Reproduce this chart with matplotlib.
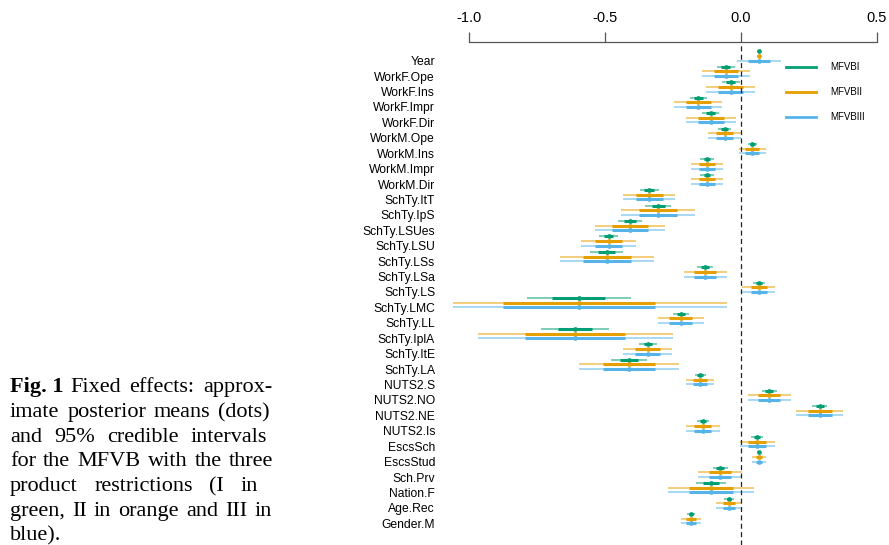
import matplotlib
matplotlib.use("Agg")
import matplotlib.pyplot as plt
from matplotlib.lines import Line2D

plt.rcParams["font.family"] = ["Liberation Sans", "DejaVu Sans"]

# fixed effects, top to bottom
terms = ["Year", "WorkF.Ope", "WorkF.Ins", "WorkF.Impr", "WorkF.Dir",
         "WorkM.Ope", "WorkM.Ins", "WorkM.Impr", "WorkM.Dir",
         "SchTy.ItT", "SchTy.IpS", "SchTy.LSUes", "SchTy.LSU", "SchTy.LSs",
         "SchTy.LSa", "SchTy.LS", "SchTy.LMC", "SchTy.LL", "SchTy.IplA",
         "SchTy.ItE", "SchTy.LA", "NUTS2.S", "NUTS2.NO", "NUTS2.NE",
         "NUTS2.Is", "EscsSch", "EscsStud", "Sch.Prv", "Nation.F",
         "Age.Rec", "Gender.M"]

# approximate posterior means (same for the three restrictions)
post_mean = [0.065, -0.056, -0.038, -0.157, -0.111,
             -0.060, 0.042, -0.125, -0.125,
             -0.337, -0.305, -0.407, -0.487, -0.494,
             -0.131, 0.066, -0.596, -0.222, -0.610,
             -0.342, -0.412, -0.150, 0.104, 0.290,
             -0.141, 0.060, 0.066, -0.077, -0.110,
             -0.044, -0.184]

# posterior standard deviations per restriction
sd_I = [0.003, 0.017, 0.017, 0.0155, 0.016,
        0.012, 0.009, 0.0125, 0.0125,
        0.018, 0.024, 0.0225, 0.018, 0.031,
        0.015, 0.011, 0.0975, 0.015, 0.064,
        0.016, 0.033, 0.010, 0.014, 0.014,
        0.0115, 0.011, 0.0045, 0.014, 0.028,
        0.009, 0.008]
sd_II = [0.003, 0.045, 0.046, 0.045, 0.047,
         0.031, 0.026, 0.030, 0.030,
         0.049, 0.070, 0.066, 0.051, 0.088,
         0.040, 0.031, 0.278, 0.043, 0.183,
         0.046, 0.094, 0.0265, 0.040, 0.044,
         0.032, 0.033, 0.0125, 0.041, 0.080,
         0.0235, 0.0195]
sd_III = [0.041, 0.045, 0.046, 0.045, 0.047,
          0.031, 0.026, 0.030, 0.030,
          0.049, 0.070, 0.066, 0.051, 0.088,
          0.040, 0.031, 0.278, 0.043, 0.183,
          0.046, 0.094, 0.0265, 0.040, 0.044,
          0.032, 0.033, 0.0125, 0.041, 0.080,
          0.0235, 0.0195]

methods = ["MFVBI", "MFVBII", "MFVBIII"]
colors = ["#009E73", "#E69F00", "#56B4E9"]
offsets = [-0.6, -0.3, 0.0]

caption = [
    ("Fig. 1", ["Fixed", "effects:", "approx-"], 272),
    (None, ["imate", "posterior", "means", "(dots)"], 270),
    (None, ["and", "95%", "credible", "intervals"], 267),
    (None, ["for", "the", "MFVB", "with", "the", "three"], 273),
    (None, ["product", "restrictions", "(I", "in"], 258),
    (None, ["green,", "II", "in", "orange", "and", "III", "in"], 272),
    (None, ["blue)."], None),
]

W, H = 889, 545
fig = plt.figure(figsize=(W / 100, H / 100), dpi=100)
ax = fig.add_axes([452.7 / W, 0, 440.6 / W, 1 - 42 / H])

rows = list(range(len(terms)))
for sds, col, off in zip([sd_I, sd_II, sd_III], colors, offsets):
    for i in rows:
        m, s = post_mean[i], sds[i]
        y = i + off
        ax.hlines(y, m - 1.96 * s, m + 1.96 * s, color=col, lw=1.2, alpha=0.6)
        ax.hlines(y, m - s, m + s, color=col, lw=2.2)
        ax.plot(m, y, "o", color=col, ms=3.4, mew=0)

ax.axvline(0, color="#222222", lw=0.9, ls=(0, (4, 2.7)))

ax.set_xlim(-1.06, 0.56)
ax.set_ylim(31.41, -1.213)

ax.xaxis.tick_top()
ax.set_xticks([-1.0, -0.5, 0.0, 0.5])
ax.set_xticklabels(["-1.0", "-0.5", "0.0", "0.5"])
ax.tick_params(axis="x", direction="out", length=7, width=0.9,
               color="#555555", pad=5, labelsize=10.5)
ax.set_yticks(rows)
ax.set_yticklabels(terms)
ax.tick_params(axis="y", length=0, pad=12.7, labelsize=8.7)
for side in ["left", "right", "bottom"]:
    ax.spines[side].set_visible(False)
ax.spines["top"].set_bounds(-1.0, 0.5)
ax.spines["top"].set_color("#555555")
ax.spines["top"].set_linewidth(0.9)

handles = [Line2D([], [], color=c, lw=2) for c in colors]
fig.legend(handles, methods, loc="upper left", frameon=False,
           bbox_to_anchor=(786 / W, 1 - 62 / H), fontsize=7,
           borderpad=0, borderaxespad=0, handlelength=3.1,
           handletextpad=1.5, labelspacing=1.55)

# figure caption, justified like the printed page
renderer = fig.canvas.get_renderer()
serif = dict(family="Liberation Serif", fontsize=16, va="baseline")
for k, (bold, words, right) in enumerate(caption):
    yb = 1 - (392.3 + 24.7 * k) / H
    x0 = 10
    if bold:
        tb = fig.text(x0 / W, yb, bold, fontweight="bold", **serif)
        x0 += tb.get_window_extent(renderer).width + 7
    texts = [fig.text(0, yb, w, **serif) for w in words]
    widths = [t.get_window_extent(renderer).width for t in texts]
    if right is None or len(words) < 2:
        gap = 5.0
    else:
        gap = (right - x0 - sum(widths)) / (len(words) - 1)
    x = x0
    for t, w in zip(texts, widths):
        t.set_x(x / W)
        x += w + gap

fig.savefig("out.png", dpi=100)
